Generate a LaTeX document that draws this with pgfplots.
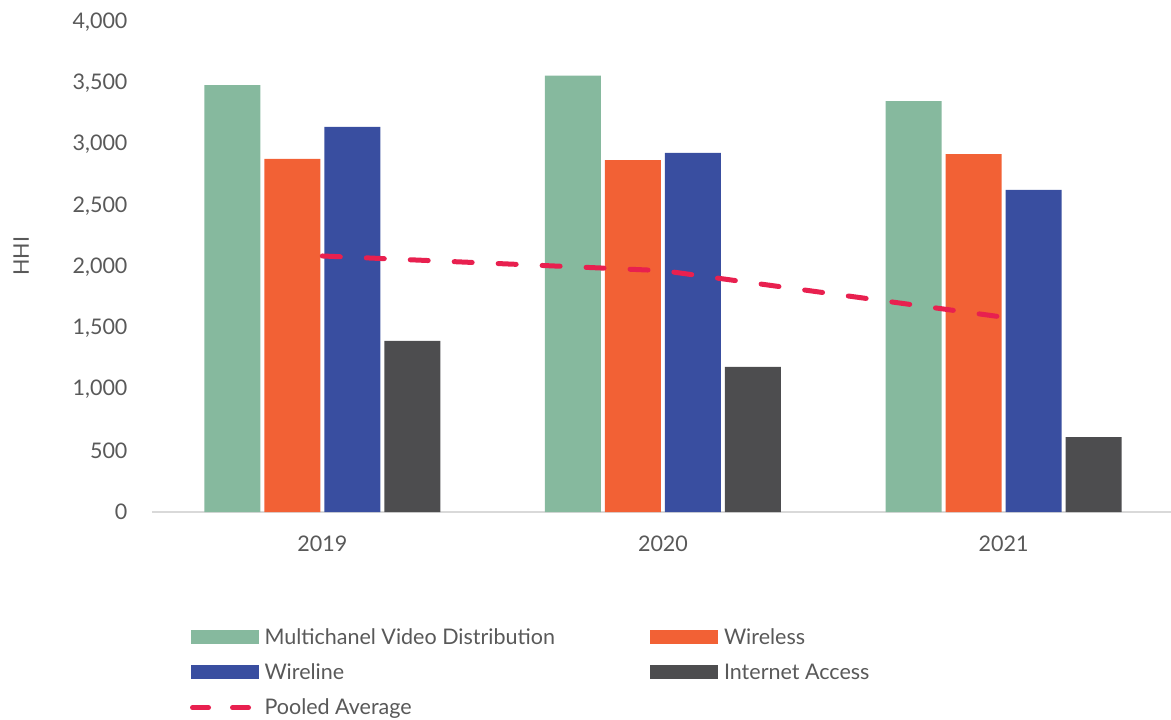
\documentclass[border=0pt]{standalone}
\usepackage{fontspec}
\setmainfont{Lato}
\usepackage{pgfplots}
\pgfplotsset{compat=1.18}
\definecolor{cMVD}{HTML}{86B99E}
\definecolor{cWls}{HTML}{F26135}
\definecolor{cWln}{HTML}{394EA0}
\definecolor{cInt}{HTML}{4D4D4F}
\definecolor{cAvg}{HTML}{E8204F}
\definecolor{txt}{HTML}{595959}
\begin{document}
\begin{tikzpicture}
\begin{axis}[
  scale only axis, width=1022pt, height=490pt,
  xmin=-0.5, xmax=2.5, ymin=0, ymax=4000,
  ybar=4pt, bar width=56pt,
  xtick={0,1,2}, xticklabels={2019,2020,2021},
  ytick={0,500,...,4000},
  scaled y ticks=false,
  /pgf/number format/.cd, 1000 sep={,}, assume math mode=true, /pgfplots/.cd,
  major tick length=0pt,
  axis x line*=bottom, axis y line*=left,
  y axis line style={draw=none},
  x axis line style={draw=black!15, line width=1.5pt, -},
  tick label style={font=\fontsize{21.5}{25}\selectfont, text=txt},
  yticklabel style={xshift=-21pt},
  xticklabel style={yshift=-20pt},
  ylabel={HHI},
  ylabel style={font=\fontsize{21.5}{25}\selectfont, text=txt, at={(axis description cs:-0.128,0.522)}, anchor=center},
  legend columns=2,
  legend cell align=left,
  legend style={at={(axis description cs:0.037,-0.233)}, anchor=north west, draw=none, inner sep=0pt,
    font=\fontsize{21.5}{25}\selectfont, text=txt, row sep=14pt,
    /tikz/every odd column/.append style={column sep=4pt},
    /tikz/every even column/.append style={column sep=93pt}},
]
\addplot[fill=cMVD, draw=none, area legend, legend image code/.code={\fill[cMVD] (0pt,-7pt) rectangle (68pt,7pt);}] coordinates {(0,3485) (1,3562) (2,3355)};
\addplot[fill=cWls, draw=none, area legend, legend image code/.code={\fill[cWls] (0pt,-7pt) rectangle (68pt,7pt);}] coordinates {(0,2882) (1,2873) (2,2922)};
\addplot[fill=cWln, draw=none, area legend, legend image code/.code={\fill[cWln] (0pt,-7pt) rectangle (68pt,7pt);}] coordinates {(0,3143) (1,2931) (2,2629)};
\addplot[fill=cInt, draw=none, area legend, legend image code/.code={\fill[cInt] (0pt,-7pt) rectangle (68pt,7pt);}] coordinates {(0,1396) (1,1184) (2,612)};
\addplot[sharp plot, cAvg, line width=5pt, line cap=round, dash pattern=on 18pt off 26pt, mark=none,
  legend image code/.code={\draw[cAvg, line width=5pt, line cap=round] (2pt,0pt)--(18pt,0pt) (42pt,0pt)--(58pt,0pt);}] coordinates {(0,2090) (1,1970) (2,1590)};
\legend{Multichanel Video Distribution, Wireless, Wireline, Internet Access, Pooled Average}
\coordinate (bl) at (rel axis cs:0,0);
\end{axis}
\pgfresetboundingbox
\useasboundingbox ([xshift=-152pt,yshift=-208pt]bl) rectangle ([xshift=1019pt,yshift=512pt]bl);
\end{tikzpicture}
\end{document}
